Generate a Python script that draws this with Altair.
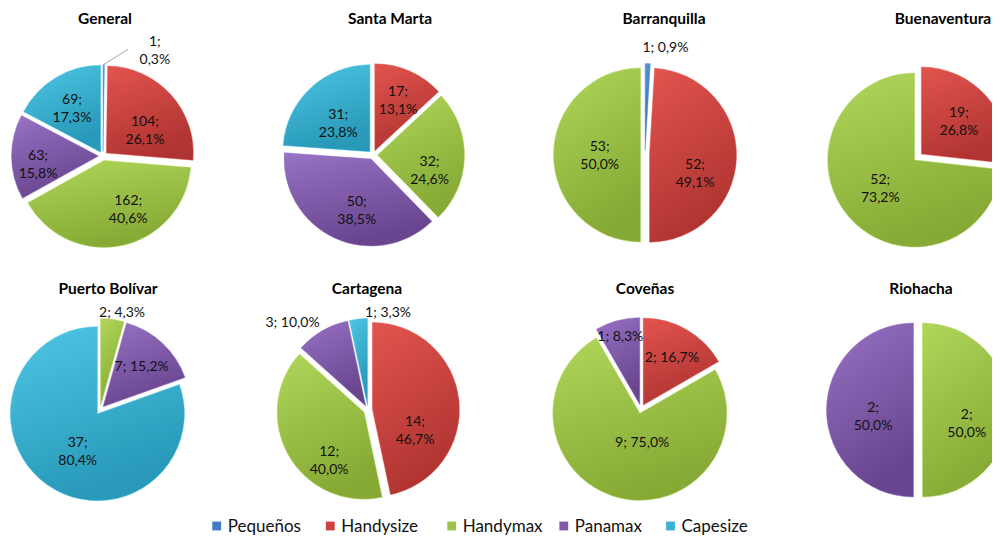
import math
import altair as alt
import pandas as pd

# ---------------- data ----------------
CATEGORIES = ["Pequeños", "Handysize", "Handymax", "Panamax", "Capesize"]
PORTS = ["General", "Santa Marta", "Barranquilla", "Buenaventura",
         "Puerto Bolívar", "Cartagena", "Coveñas", "Riohacha"]

general = [1, 104, 162, 63, 69]
santa_marta = [0, 17, 32, 50, 31]
barranquilla = [1, 52, 53, 0, 0]
buenaventura = [0, 19, 52, 0, 0]
puerto_bolivar = [0, 0, 2, 7, 37]
cartagena = [0, 14, 12, 3, 1]
covenas = [0, 2, 9, 1, 0]
riohacha = [0, 0, 2, 2, 0]

PORT_VALUES = {
    "General": general, "Santa Marta": santa_marta, "Barranquilla": barranquilla,
    "Buenaventura": buenaventura, "Puerto Bolívar": puerto_bolivar,
    "Cartagena": cartagena, "Coveñas": covenas, "Riohacha": riohacha,
}

# ---------------- layout / style ----------------
W, H = 984, 528          # chart size (page has 8px margin)
R = 87                   # pie radius
E = 4.5                  # explosion distance
FONT = "Lato"

PIE_CENTER = {
    "General": (103, 156), "Santa Marta": (373, 155), "Barranquilla": (645, 155),
    "Buenaventura": (918, 157), "Puerto Bolívar": (100, 410), "Cartagena": (368, 410),
    "Coveñas": (641, 409), "Riohacha": (918, 410),
}
TITLE_POS = {
    "General": (105, 19), "Santa Marta": (390, 19), "Barranquilla": (664, 19),
    "Buenaventura": (943, 19), "Puerto Bolívar": (108, 289), "Cartagena": (367, 289),
    "Coveñas": (645, 289), "Riohacha": (921, 289),
}
# label placement: (angle in degrees clockwise from 12 o'clock, distance, separator)
LABEL_LAYOUT = {
    ("General", "Pequeños"): (24.5, 125, "\n"),
    ("General", "Handysize"): (51, 54, "\n"),
    ("General", "Handymax"): (151, 52, "\n"),
    ("General", "Panamax"): (270, 65, "\n"),
    ("General", "Capesize"): (331, 64, "\n"),
    ("Santa Marta", "Handysize"): (21.6, 68, "\n"),
    ("Santa Marta", "Handymax"): (97, 57, "\n"),
    ("Santa Marta", "Panamax"): (199, 50, "\n"),
    ("Santa Marta", "Capesize"): (319, 53, "\n"),
    ("Barranquilla", "Pequeños"): (10.8, 109, " "),
    ("Barranquilla", "Handysize"): (101, 51, "\n"),
    ("Barranquilla", "Handymax"): (280, 46, "\n"),
    ("Buenaventura", "Handysize"): (43, 60, "\n"),
    ("Buenaventura", "Handymax"): (239, 44, "\n"),
    ("Puerto Bolívar", "Handymax"): (12.8, 99.5, " "),
    ("Puerto Bolívar", "Panamax"): (44, 60, " "),
    ("Puerto Bolívar", "Capesize"): (214, 40, "\n"),
    ("Cartagena", "Handysize"): (104, 48.5, "\n"),
    ("Cartagena", "Handymax"): (223, 57, "\n"),
    ("Cartagena", "Panamax"): (319, 115, " "),
    ("Cartagena", "Capesize"): (11.7, 99, " "),
    ("Coveñas", "Handysize"): (31, 60, " "),
    ("Coveñas", "Handymax"): (178, 34, " "),
    ("Coveñas", "Panamax"): (344, 75, " "),
    ("Riohacha", "Handymax"): (96, 49, "\n"),
    ("Riohacha", "Panamax"): (273, 45, "\n"),
}
LEADERS = {("General", "Pequeños"): (-27, 7)}   # leader end relative to label

COLORS = {
    "Pequeños": ("#5B98DB", "#2C64A8"),
    "Handysize": ("#E2544F", "#B03431"),
    "Handymax": ("#B0D65A", "#86AA35"),
    "Panamax": ("#9872C4", "#69458F"),
    "Capesize": ("#4FC6E4", "#2899B8"),
}
MID_COLORS = ["#3F7EC6", "#CC423E", "#9CC247", "#8157AA", "#38B1D2"]

LEGEND_SQUARE_X = [216.7, 330.3, 451.7, 563.8, 670.5]
LEGEND_SQ_Y = 526
LEGEND_BASELINE = 531.5

# ---------------- build tables ----------------
slices, labels, leaders = [], [], []
for port in PORTS:
    vals = PORT_VALUES[port]
    tot = sum(vals)
    cx, cy = PIE_CENTER[port]
    cum = 0
    for cat, v in zip(CATEGORIES, vals):
        if v == 0:
            continue
        t0 = cum / tot
        cum += v
        t1 = cum / tot
        mid = (t0 + t1) * math.pi
        slices.append(dict(port=port, cat=cat, t0=t0, t1=t1,
                           ax=cx + E * math.sin(mid), ay=cy - E * math.cos(mid)))
        pct = f"{v / tot * 100:.1f}".replace(".", ",")
        ang, dist, sep = LABEL_LAYOUT[(port, cat)]
        a = math.radians(ang)
        lx, ly = cx + dist * math.sin(a), cy - dist * math.cos(a)
        labels.append(dict(text=f"{v};{sep}{pct}%", lx=lx, ly=ly))
        if (port, cat) in LEADERS:
            ox, oy = LEADERS[(port, cat)]
            leaders.append(dict(x0=cx + (R + E) * math.sin(mid),
                                y0=cy - (R + E) * math.cos(mid),
                                x1=lx + ox, y1=ly + oy))

slice_df = pd.DataFrame(slices)
label_df = pd.DataFrame(labels)
leader_df = pd.DataFrame(leaders)
title_df = pd.DataFrame([dict(port=p, tx=TITLE_POS[p][0], ty=TITLE_POS[p][1]) for p in PORTS])
legend_df = pd.DataFrame(dict(cat=CATEGORIES, sx=LEGEND_SQUARE_X,
                              tx=[x + 11 for x in LEGEND_SQUARE_X],
                              sy=[LEGEND_SQ_Y] * 5, by=[LEGEND_BASELINE] * 5))

xs = alt.Scale(domain=[8, 8 + W], range=[0, W], nice=False, zero=False)
ys = alt.Scale(domain=[8, 8 + H], range=[0, H], nice=False, zero=False)
ts = alt.Scale(domain=[0, 1], range=[0, 2 * math.pi])

layers = []
for cat in CATEGORIES:
    c1, c2 = COLORS[cat]
    grad = alt.Gradient(gradient="linear",
                        stops=[alt.GradientStop(color=c1, offset=0),
                               alt.GradientStop(color=c2, offset=1)],
                        x1=0, x2=0.35, y1=0, y2=1)
    layers.append(
        alt.Chart(slice_df).transform_filter(alt.datum.cat == cat)
        .mark_arc(radius=R, fill=grad, stroke=c1, strokeWidth=0.8, strokeOpacity=0.6)
        .encode(x=alt.X("ax:Q", scale=xs, axis=None),
                y=alt.Y("ay:Q", scale=ys, axis=None),
                theta=alt.Theta("t0:Q", scale=ts, stack=None),
                theta2="t1:Q")
    )

leader_layer = alt.Chart(leader_df).mark_rule(color="#A6A6A6", strokeWidth=1).encode(
    x=alt.X("x0:Q", scale=xs, axis=None), y=alt.Y("y0:Q", scale=ys, axis=None),
    x2="x1:Q", y2="y1:Q")

label_layer = alt.Chart(label_df).mark_text(
    font=FONT, fontSize=14, color="#111111", align="center", baseline="middle",
    lineBreak="\n", lineHeight=18).encode(
    x=alt.X("lx:Q", scale=xs, axis=None), y=alt.Y("ly:Q", scale=ys, axis=None),
    text="text:N")

title_layer = alt.Chart(title_df).mark_text(
    font=FONT, fontSize=15.5, fontWeight="bold", color="#000000",
    align="center", baseline="middle").encode(
    x=alt.X("tx:Q", scale=xs, axis=None), y=alt.Y("ty:Q", scale=ys, axis=None),
    text="port:N")

legend_sq = alt.Chart(legend_df).mark_square(size=78, opacity=1, filled=True).encode(
    x=alt.X("sx:Q", scale=xs, axis=None), y=alt.Y("sy:Q", scale=ys, axis=None),
    color=alt.Color("cat:N", scale=alt.Scale(domain=CATEGORIES, range=MID_COLORS), legend=None))

legend_txt = alt.Chart(legend_df).mark_text(
    font=FONT, fontSize=17, color="#111111", align="left", baseline="alphabetic").encode(
    x=alt.X("tx:Q", scale=xs, axis=None), y=alt.Y("by:Q", scale=ys, axis=None),
    text="cat:N")

chart = alt.layer(*layers, leader_layer, label_layer, title_layer, legend_sq, legend_txt).properties(
    width=W, height=H, padding=0, autosize=alt.AutoSizeParams(type="none")
).configure_view(stroke=None)

chart.save("out.html", embed_options={"renderer": "svg", "actions": False})
